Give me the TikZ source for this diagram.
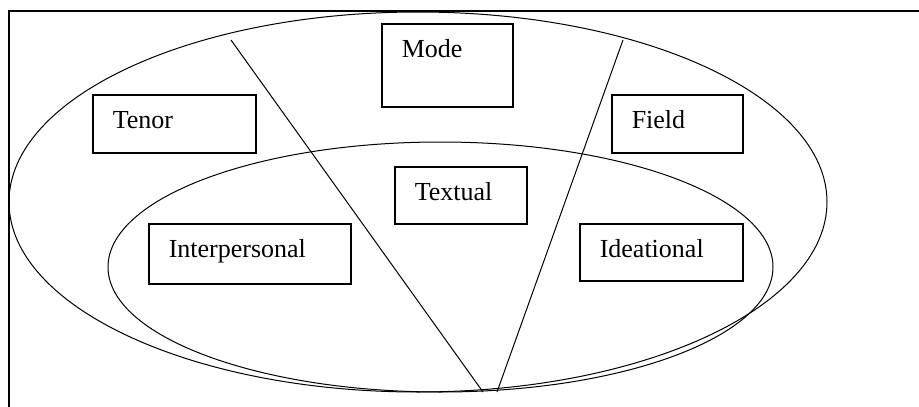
\documentclass[tikz,border=0pt]{standalone}
\usepackage{fontspec}
\setmainfont{Liberation Serif}
\usepackage{tikz}

\begin{document}
\begin{tikzpicture}[
  x=1pt,y=-1pt,
  font=\fontsize{26}{30}\selectfont,
  frame/.style={draw=black,line width=1.6pt},
  ring/.style={draw=black,line width=1pt},
  cut/.style={draw=black,line width=1pt},
  box/.style={draw=black,line width=1.5pt,anchor=north west,align=left,inner xsep=20pt,inner ysep=0pt,text height=34pt},
]
\useasboundingbox (0,0) rectangle (919,407);
\draw[frame] (919,11) -- (9,11) -- (9,407);
% context (outer) and metafunctions (inner)
\draw[ring] (418,202) ellipse [x radius=409,y radius=190];
\draw[ring] (440.5,267) ellipse [x radius=332.5,y radius=125];
\coordinate (lt) at (231,40);
\coordinate (rt) at (623,40);
\coordinate (lb) at (483,392);
\coordinate (rb) at (497,392);
\draw[cut] (lt) -- (lb);
\draw[cut] (rt) -- (rb);
\node[box,text width=123pt,text depth=24pt] (tenor) at (92,94) {Tenor};
\node[box,text width=91pt,text depth=49pt] (mode) at (381,23) {Mode};
\node[box,text width=91pt,text depth=24pt] (field) at (611,94) {Field};
\node[box,text width=92pt,text depth=23pt] (textual) at (394,166) {Textual};
\node[box,text width=162pt,text depth=26pt] (inter) at (148,223) {Interpersonal};
\node[box,text width=123pt,text depth=23pt] (idea) at (579,223) {Ideational};
\end{tikzpicture}
\end{document}
